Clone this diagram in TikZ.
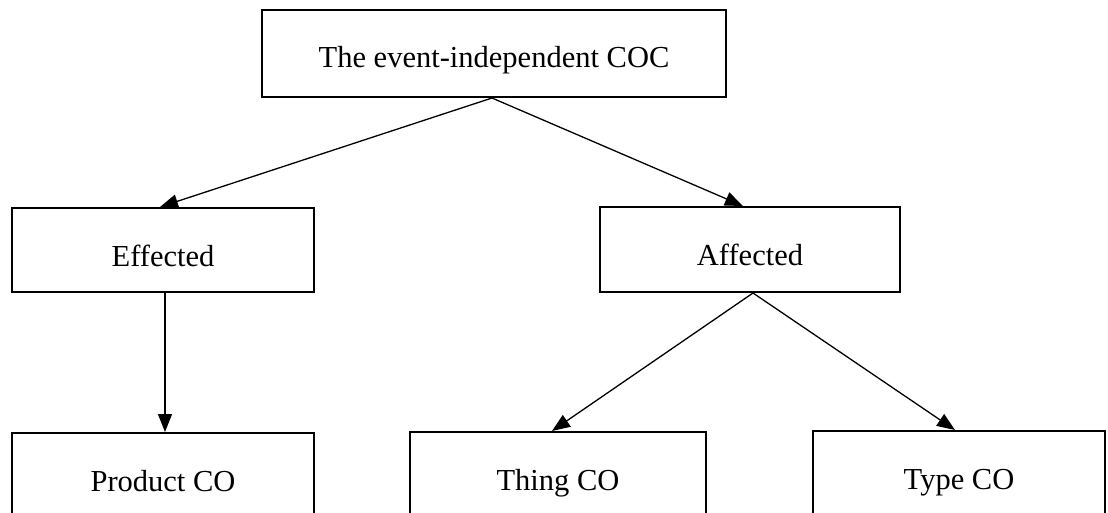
\documentclass[tikz,border=0pt]{standalone}
\usepackage{fontspec}
\setmainfont{Liberation Serif}
\usetikzlibrary{arrows.meta}
\begin{document}
\begin{tikzpicture}[x=1pt,y=-1pt,
  box/.style={draw=black, line width=2pt, fill=white, rectangle,
    inner sep=0pt, text height=32pt, text depth=0pt,
    font=\fontsize{30.5}{36}\selectfont},
  conn/.style={draw=black, line width=1.3pt,
    -{Triangle[length=18pt,width=14pt]}}]
  \useasboundingbox (0,0) rectangle (1108,512);
  \clip (0,0) rectangle (1108,512);
  \fill[white] (0,0) rectangle (1108,512);

  % root
  \node[box, minimum width=464pt, minimum height=87pt, text height=27pt]
    (root) at (494,53.5) {The event-independent COC};
  % second level
  \node[box, minimum width=302pt, minimum height=84pt] (eff) at (163,250) {Effected};
  \node[box, minimum width=300pt, minimum height=85pt] (aff) at (750,249.5) {Affected};
  % third level (boxes run past the lower edge)
  \node[box, minimum width=302pt, minimum height=84pt] (prod) at (163,475) {Product CO};
  \node[box, minimum width=296pt, minimum height=84pt] (thing) at (558,474) {Thing CO};
  \node[box, minimum width=292pt, minimum height=84pt] (type) at (959,473) {Type CO};

  % connectors
  \draw[conn] ([xshift=-2pt]root.south) -- ([xshift=-3pt]eff.north);
  \draw[conn] ([xshift=-2pt]root.south) -- ([xshift=-7pt]aff.north);
  \draw[conn] ([xshift=2pt]eff.south) -- ([xshift=2pt]prod.north);
  \draw[conn] ([xshift=3pt]aff.south) -- ([xshift=-6pt]thing.north);
  \draw[conn] ([xshift=3pt]aff.south) -- ([xshift=-4pt]type.north);
\end{tikzpicture}
\end{document}
